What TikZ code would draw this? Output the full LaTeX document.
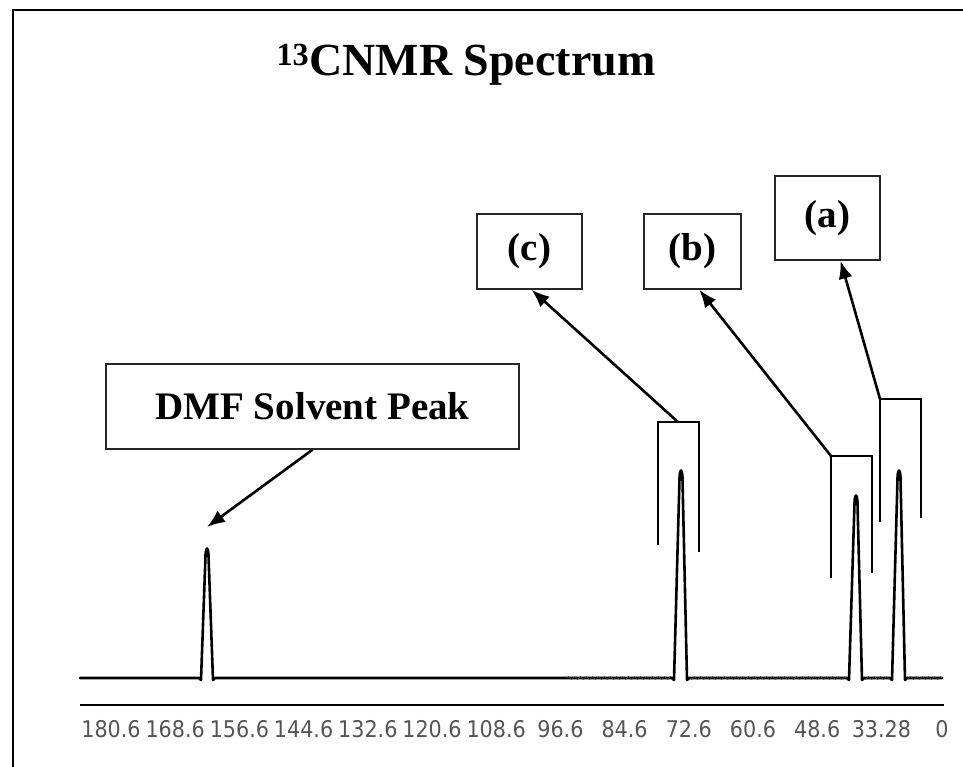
\documentclass[tikz,border=0pt]{standalone}
\usepackage{fontspec}
\setmainfont{Liberation Serif}
\newfontfamily\axisfont[FakeStretch=0.9]{DejaVu Sans}
\usetikzlibrary{arrows.meta}
\definecolor{axisgray}{HTML}{555555}

\tikzset{
  frame/.style={line width=2.4pt, line cap=rect},
  spec/.style={line width=2.6pt, line join=round, line cap=round},
  ripple/.style={line width=0.8pt, black!75},
  bracket/.style={line width=2.6pt, line join=miter},
  lbox/.style={draw=black!85, line width=1.4pt, inner sep=0pt, align=center,
               font=\bfseries\fontsize{39}{44}\selectfont},
  arr/.style={-{Latex[length=18pt,width=14pt]}, line width=2.6pt},
  axlab/.style={anchor=base, text=axisgray, inner sep=0pt,
                font=\axisfont\fontsize{23}{26}\selectfont},
}

\begin{document}
\begin{tikzpicture}[x=1pt, y=-1pt]
  \useasboundingbox (0,0) rectangle (963,766);

  % outer frame (top and left edges)
  \draw[frame] (13,766) -- (13,10) -- (963,10);

  % title
  \node[anchor=base, inner sep=0pt, font=\bfseries\fontsize{46}{52}\selectfont]
    (title) at (466,75) {\textsuperscript{13}CNMR Spectrum};

  % spectrum trace with the four peaks
  \draw[spec] (80,678) -- (199,678) -- (201,680)
    -- (205.6,553) .. controls (206.5,547) and (207.5,547) .. (208.4,553)
    -- (213,680) -- (215,678)
    -- (672,678) -- (674,680)
    -- (679.6,475) .. controls (680.5,469) and (681.5,469) .. (682.4,475)
    -- (687,680) -- (689,678)
    -- (847,678) -- (849,680)
    -- (854.6,500) .. controls (855.5,494) and (856.5,494) .. (857.4,500)
    -- (862,680) -- (864,678)
    -- (890,678) -- (892,680)
    -- (897.6,475) .. controls (898.5,469) and (899.5,469) .. (900.4,475)
    -- (905,680) -- (907,678)
    -- (942,678);

  % baseline noise
  \foreach \lo/\hi/\n in {567/671/140, 690/846/200, 865/889/40, 908/942/50}
    \draw[ripple] plot[domain=\lo:\hi, samples=\n] (\x, {678+1.3*sin(mod(\x,6)*60)});

  % axis line and tick labels
  \draw[line width=2.6pt] (80,705) -- (944,705);
  \foreach \v [count=\i from 0] in {180.6,168.6,156.6,144.6,132.6,120.6,108.6,96.6,84.6,72.6,60.6,48.6,33.28}
    \node[axlab] (lab\i) at ({111+64.2*\i},737) {\v};
  \node[axlab] (lab13) at (942,737) {0};

  % integration brackets
  \draw[bracket] (658,545) -- (658,422) -- (699,422) -- (699,552);
  \draw[bracket] (831,578) -- (831,456) -- (872,456) -- (872,573);
  \draw[bracket] (880,522) -- (880,399) -- (921,399) -- (921,518);
  \coordinate (cstem) at (678,422);
  \coordinate (bstem) at (831,456);
  \coordinate (astem) at (880,399);
  \coordinate (dmfpk) at (207,527);

  % label boxes
  \node[lbox, minimum width=413pt, minimum height=85pt] (dmf) at (312.5,406.5) {DMF Solvent Peak};
  \node[lbox, minimum width=105pt, minimum height=75pt] (c) at (529.5,251.5) {(c)};
  \node[lbox, minimum width=97pt, minimum height=75pt] (b) at (692.5,251.5) {(b)};
  \node[lbox, minimum width=105pt, minimum height=84pt] (a) at (827.5,218) {(a)};

  % pointers
  \draw[arr] (dmf.south) -- (dmfpk);
  \draw[arr] (cstem) -- (c.-87);
  \draw[arr] (bstem) -- (b.-80);
  \draw[arr] (astem) -- (a.-73);
\end{tikzpicture}
\end{document}
